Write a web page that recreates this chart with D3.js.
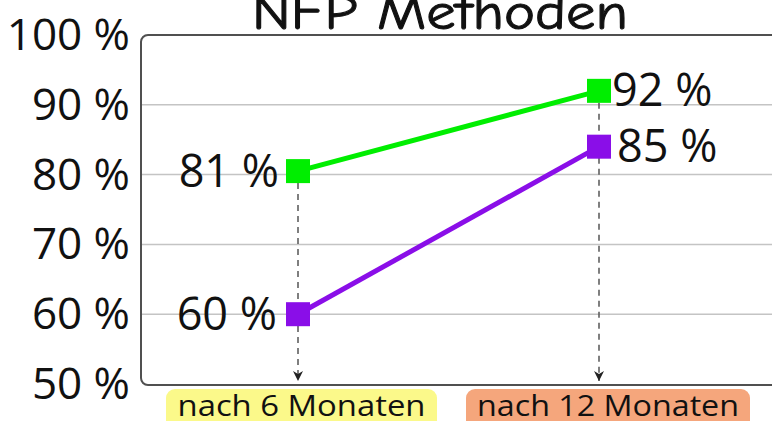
<!DOCTYPE html>
<html><head><meta charset="utf-8">
<script src="https://cdn.jsdelivr.net/npm/d3@7"></script>
<style>body{margin:0;background:#fff}svg{display:block}</style>
</head><body>
<svg id="c" width="772" height="421"></svg>
<script>
const title = "NFP Methoden";
const categories = ["nach 6 Monaten", "nach 12 Monaten"];
// plotted positions
const seriesGreen = [80.5, 92];
const seriesPurple = [60, 84];
// value labels as printed on the chart
const labelsGreen = ["81 %", "92 %"];
const labelsPurple = ["60 %", "85 %"];
const yTicks = [50, 60, 70, 80, 90, 100];
const catColors = ["#fbf98a", "#f5a67c"];

const svg = d3.select("#c");
const frame = {left: 141, right: 772, top: 35, bottom: 385};
const y = d3.scaleLinear().domain([50, 100]).range([384, 35]);
const x = d3.scalePoint().domain(categories).range([298, 599]);

// grid
svg.append("g").selectAll("line").data(yTicks.filter(d => d > 50 && d < 100)).join("line")
  .attr("x1", frame.left).attr("x2", frame.right)
  .attr("y1", d => y(d)).attr("y2", d => y(d))
  .attr("stroke", "#c4c4c4").attr("stroke-width", 1.5);

// frame
svg.append("rect").attr("x", frame.left).attr("y", frame.top)
  .attr("width", frame.right - frame.left + 10).attr("height", frame.bottom - frame.top)
  .attr("rx", 7).attr("fill", "none").attr("stroke", "#505050").attr("stroke-width", 2);

// y labels
svg.append("g").selectAll("text").data(yTicks).join("text")
  .attr("x", 130).attr("y", d => y(d) - 2)
  .attr("text-anchor", "end").attr("dominant-baseline", "central")
  .attr("font-family", "'Open Sans', sans-serif").attr("font-size", 44)
  .attr("fill", "#111").text(d => d + " %");

// title
svg.append("text").attr("x", 440).attr("y", 29).attr("text-anchor", "middle")
  .attr("font-family", "'Comic Sans MS','Comic Neue','DejaVu Sans',sans-serif")
  .attr("font-size", 50).attr("fill", "#111")
  .attr("stroke", "#111").attr("stroke-width", 1)
  .attr("textLength", 376).attr("lengthAdjust", "spacingAndGlyphs")
  .text(title);

// arrow marker
svg.append("defs").append("marker").attr("id", "arr")
  .attr("viewBox", "0 0 10 10").attr("refX", 10).attr("refY", 5)
  .attr("markerWidth", 10).attr("markerHeight", 11).attr("markerUnits", "userSpaceOnUse")
  .attr("orient", "auto")
  .append("path").attr("d", "M0,0 L10,5 L0,10 L3,5 Z").attr("fill", "#222");

// dashed drop lines
svg.append("g").selectAll("line").data(categories).join("line")
  .attr("x1", d => x(d)).attr("x2", d => x(d))
  .attr("y1", (d, i) => y(seriesGreen[i]) + 12).attr("y2", 381)
  .attr("stroke", "#555").attr("stroke-width", 1.5).attr("stroke-dasharray", "6,5")
  .attr("marker-end", "url(#arr)");

// lines & markers
const series = [
  {vals: seriesPurple, labels: labelsPurple, color: "#8a0ee8", off: [-21, 18]},
  {vals: seriesGreen, labels: labelsGreen, color: "#00ee00", off: [-19, 13]}
];
const line = d3.line().x((d, i) => x(categories[i])).y(d => y(d));
series.forEach(s => {
  svg.append("path").datum(s.vals).attr("d", line).attr("fill", "none")
    .attr("stroke", s.color).attr("stroke-width", 5);
  svg.append("g").selectAll("rect").data(s.vals).join("rect")
    .attr("x", (d, i) => x(categories[i]) - 12).attr("y", d => y(d) - 12)
    .attr("width", 24).attr("height", 24).attr("fill", s.color);
  svg.append("g").selectAll("text").data(s.vals).join("text")
    .attr("x", (d, i) => x(categories[i]) + s.off[i])
    .attr("y", d => y(d) - 2)
    .attr("text-anchor", (d, i) => i === 0 ? "end" : "start")
    .attr("dominant-baseline", "central")
    .attr("font-family", "'Open Sans', sans-serif").attr("font-size", 45)
    .attr("fill", "#111").text((d, i) => s.labels[i]);
});

// category labels with highlight boxes
const boxes = [{x0: 166, x1: 437}, {x0: 466, x1: 750}];
const cg = svg.append("g").selectAll("g").data(categories).join("g");
cg.append("rect").attr("x", (d, i) => boxes[i].x0).attr("y", 389)
  .attr("width", (d, i) => boxes[i].x1 - boxes[i].x0).attr("height", 40)
  .attr("rx", 9).attr("fill", (d, i) => catColors[i]);
cg.append("text").attr("x", (d, i) => (boxes[i].x0 + boxes[i].x1) / 2).attr("y", 416)
  .attr("text-anchor", "middle").attr("font-family", "'Open Sans', sans-serif")
  .attr("font-size", 30).attr("fill", "#111")
  .attr("textLength", (d, i) => i === 0 ? 248 : 262).attr("lengthAdjust", "spacingAndGlyphs")
  .text(d => d);
</script>
</body></html>
